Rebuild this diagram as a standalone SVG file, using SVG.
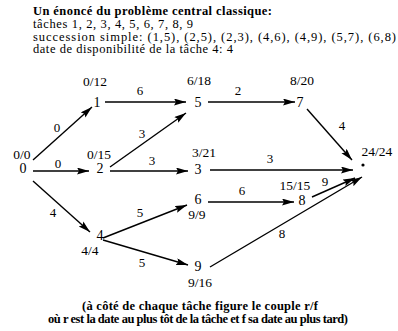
<svg xmlns="http://www.w3.org/2000/svg" width="398" height="331" viewBox="0 0 398 331">
<style>
text{font-family:"Liberation Serif","Times New Roman",serif;fill:#000}
.h{font-size:12.5px}
.hb{font-size:12.5px;font-weight:bold}
.n{font-size:14px;text-anchor:middle}
.r{font-size:13.5px;text-anchor:middle}
.w{font-size:13px;text-anchor:middle}
.e line{stroke:#000;stroke-width:1.4;marker-end:url(#a)}
.f{font-size:12.5px;font-weight:bold}
</style>
<defs>
<marker id="a" markerUnits="userSpaceOnUse" markerWidth="13" markerHeight="8" refX="12" refY="3.5" orient="auto">
<path d="M0,0 L12,3.5 L0,7 L2,3.5 z" fill="#000"/>
</marker>
</defs>
<g id="header">
<text class="hb" x="33" y="15" textLength="239" lengthAdjust="spacing">Un énoncé du problème central classique:</text>
<text class="h" x="33" y="28" textLength="160" lengthAdjust="spacing">tâches 1, 2, 3, 4, 5, 6, 7, 8, 9</text>
<text class="h" x="33" y="40.5" textLength="363" lengthAdjust="spacing">succession simple: (1,5), (2,5), (2,3), (4,6), (4,9), (5,7), (6,8)</text>
<text class="h" x="33" y="53" textLength="200" lengthAdjust="spacing">date de disponibilité de la tâche 4: 4</text>
</g>
<g id="connectors" class="e">
<line x1="33" y1="160" x2="92" y2="107"/>
<text class="w" x="57" y="132">0</text>
<line x1="33" y1="171" x2="89" y2="171"/>
<text class="w" x="58" y="168">0</text>
<line x1="33" y1="181" x2="90" y2="232"/>
<text class="w" x="53" y="217">4</text>
<line x1="105" y1="102" x2="186" y2="102"/>
<text class="w" x="140" y="95">6</text>
<line x1="110" y1="167" x2="186" y2="113"/>
<text class="w" x="142" y="138">3</text>
<line x1="110" y1="171" x2="188" y2="171"/>
<text class="w" x="152" y="165">3</text>
<line x1="208" y1="102" x2="295" y2="102"/>
<text class="w" x="238" y="95">2</text>
<line x1="307" y1="109" x2="352" y2="160"/>
<text class="w" x="342" y="130">4</text>
<line x1="210" y1="170" x2="353" y2="170"/>
<text class="w" x="270" y="163">3</text>
<line x1="103" y1="238" x2="187" y2="205"/>
<text class="w" x="140" y="217">5</text>
<line x1="103" y1="240" x2="188" y2="265"/>
<text class="w" x="142" y="267">5</text>
<line x1="208" y1="202" x2="294" y2="202"/>
<text class="w" x="242" y="195">6</text>
<line x1="312" y1="197" x2="355" y2="178"/>
<text class="w" x="325" y="186">9</text>
<line x1="210" y1="267" x2="362" y2="177"/>
<text class="w" x="282" y="238">8</text>
</g>
<g id="n0"><text class="n" x="23" y="173">0</text><text class="r" x="22" y="159">0/0</text></g>
<g id="n1"><text class="n" x="97" y="107">1</text><text class="r" x="95" y="86">0/12</text></g>
<g id="n2"><text class="n" x="100" y="173">2</text><text class="r" x="99" y="159">0/15</text></g>
<g id="n3"><text class="n" x="198" y="174">3</text><text class="r" x="204" y="157">3/21</text></g>
<g id="n4"><text class="n" x="100" y="240">4</text><text class="r" x="90" y="255">4/4</text></g>
<g id="n5"><text class="n" x="198" y="107">5</text><text class="r" x="199" y="85">6/18</text></g>
<g id="n6"><text class="n" x="198" y="204">6</text><text class="r" x="197" y="219">9/9</text></g>
<g id="n7"><text class="n" x="300" y="107">7</text><text class="r" x="302" y="85">8/20</text></g>
<g id="n8"><text class="n" x="302" y="205">8</text><text class="r" x="295" y="190">15/15</text></g>
<g id="n9"><text class="n" x="198" y="271">9</text><text class="r" x="200" y="287">9/16</text></g>
<g id="end"><circle cx="363" cy="165" r="1.6" fill="#000"/><text class="r" x="377" y="156">24/24</text></g>
<g id="footer">
<text class="f" x="82" y="310" textLength="236" lengthAdjust="spacing">(à côté de chaque tâche figure le couple r/f</text>
<text class="f" x="48" y="323" textLength="300" lengthAdjust="spacing">où r est la date au plus tôt de la tâche et f sa date au plus tard)</text>
</g>
</svg>
